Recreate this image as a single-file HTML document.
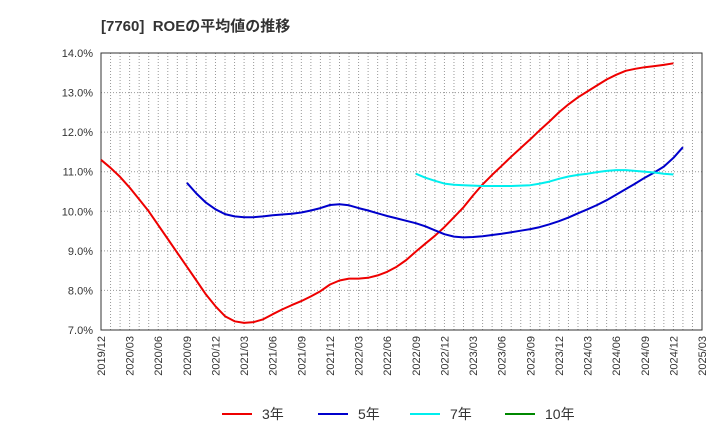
<!DOCTYPE html>
<html><head><meta charset="utf-8"><style>
body{margin:0;background:#fff;font-family:"Liberation Sans","Noto Sans CJK JP",sans-serif;}
</style></head><body>
<svg width="720" height="440" xmlns="http://www.w3.org/2000/svg" font-family="Liberation Sans, Noto Sans CJK JP, sans-serif">
<text x="101" y="31" font-size="15" font-weight="bold" fill="#333">[7760]&#160; ROEの平均値の推移</text>
<g id="grid"></g><g id="axes"></g><g id="series"></g><g id="legend"></g>
</svg>
<script>
const yTicks=[7,8,9,10,11,12,13,14];
const xLabels=["2019/12","2020/03","2020/06","2020/09","2020/12","2021/03","2021/06","2021/09","2021/12","2022/03","2022/06","2022/09","2022/12","2023/03","2023/06","2023/09","2023/12","2024/03","2024/06","2024/09","2024/12","2025/03"];
const red=[11.3,11.1,10.87,10.6,10.3,10.0,9.65,9.3,8.95,8.6,8.25,7.9,7.6,7.35,7.22,7.18,7.2,7.27,7.4,7.52,7.63,7.73,7.85,7.98,8.15,8.25,8.3,8.3,8.32,8.38,8.47,8.6,8.77,8.98,9.18,9.38,9.6,9.85,10.1,10.4,10.68,10.92,11.15,11.38,11.6,11.82,12.05,12.27,12.5,12.7,12.88,13.03,13.18,13.33,13.45,13.55,13.6,13.64,13.67,13.7,13.74];
const blueStart=9;
const blue=[10.72,10.45,10.22,10.05,9.93,9.87,9.85,9.85,9.87,9.9,9.92,9.94,9.97,10.02,10.08,10.16,10.18,10.15,10.08,10.02,9.95,9.88,9.82,9.76,9.7,9.62,9.52,9.42,9.36,9.34,9.35,9.37,9.4,9.43,9.47,9.51,9.55,9.6,9.67,9.75,9.84,9.95,10.05,10.16,10.28,10.42,10.56,10.7,10.85,10.98,11.13,11.35,11.62];
const cyanStart=33;
const cyan=[10.95,10.85,10.77,10.7,10.67,10.66,10.65,10.64,10.64,10.64,10.64,10.65,10.66,10.7,10.75,10.82,10.88,10.92,10.95,10.99,11.02,11.04,11.04,11.02,11.0,10.98,10.95,10.93];
const legendNames=["3年","5年","7年","10年"];
const legendColors=["#ee0000","#0000cc","#00eeee","#008800"];
const L=101,R=702,T=53,B=330,NM=63;
const x=m=>L+(R-L)*m/NM;
const y=v=>B-(v-7)/7*(B-T);
const NS="http://www.w3.org/2000/svg";
function mk(tag,attrs,parent){const e=document.createElementNS(NS,tag);for(const k in attrs)e.setAttribute(k,attrs[k]);parent.appendChild(e);return e;}
const grid=document.getElementById('grid'),axes=document.getElementById('axes'),ser=document.getElementById('series'),leg=document.getElementById('legend');
for(let m=1;m<NM;m++){const l=mk('line',{x1:x(m),x2:x(m),y1:T,y2:B,stroke:'#999','stroke-dasharray':'1,2','stroke-width':1},grid);

}
yTicks.forEach(v=>{if(v>7&&v<14){const l=mk('line',{x1:L,x2:R,y1:y(v),y2:y(v),stroke:'#999','stroke-dasharray':'1,2'},grid);

}
const t=mk('text',{x:L-8,y:y(v)+4,'text-anchor':'end','font-size':11,fill:'#333'},axes);t.textContent=v.toFixed(1)+'%';

});
const fr=mk('rect',{x:L,y:T,width:R-L,height:B-T,fill:'none',stroke:'#333'},axes);


xLabels.forEach((s,i)=>{const xx=x(i*3);const t=mk('text',{x:0,y:0,transform:`translate(${xx+4},${B+6}) rotate(-90)`,'text-anchor':'end','font-size':11,fill:'#333'},axes);t.textContent=s;

});
function line(arr,start,color,name){const d=arr.map((v,i)=>(i?'L':'M')+x(start+i).toFixed(1)+','+y(v).toFixed(1)).join('');
const p=mk('path',{d:d,fill:'none',stroke:color,'stroke-width':2,'stroke-linejoin':'round'},ser);

}
line(red,0,legendColors[0],'line-3y');
line(blue,blueStart,legendColors[1],'line-5y');
line(cyan,cyanStart,legendColors[2],'line-7y');
const lx=[222,318,410,505];
legendNames.forEach((n,i)=>{const g=mk('g',{},leg);


mk('line',{x1:lx[i],x2:lx[i]+30,y1:414,y2:414,stroke:legendColors[i],'stroke-width':2},g);
const t=mk('text',{x:lx[i]+40,y:419,'font-size':14,fill:'#333'},g);t.textContent=n;});
</script>
</body></html>
